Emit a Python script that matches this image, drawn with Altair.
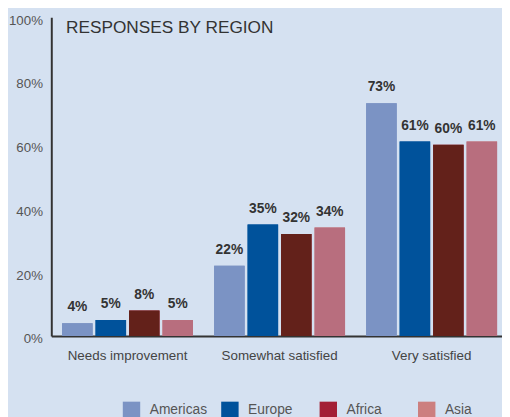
import altair as alt
import pandas as pd

categories = ["Needs improvement", "Somewhat satisfied", "Very satisfied"]
regions = ["Americas", "Europe", "Africa", "Asia"]
americas = [4, 22, 73]
europe = [5, 35, 61]
africa = [8, 32, 60]
asia = [5, 34, 61]
y_ticks = [0, 20, 40, 60, 80, 100]

bar_colors = ["#7B93C4", "#00529B", "#63211A", "#B86E7E"]
legend_colors = ["#7B93C4", "#00529B", "#A31F35", "#CC7F7F"]

series = {"Americas": americas, "Europe": europe, "Africa": africa, "Asia": asia}
rows = []
for r in regions:
    for c, v in zip(categories, series[r]):
        rows.append({"category": c, "region": r, "value": v, "label": f"{v}%"})
df = pd.DataFrame(rows)

FONT = "Liberation Sans"

x = alt.X(
    "category:N",
    sort=categories,
    scale=alt.Scale(paddingInner=0.139, paddingOuter=0.0516, align=0.6875),
    axis=alt.Axis(
        title=None, labelAngle=0, ticks=False, labelPadding=13,
        labelFontSize=13.6, labelColor="#444444", labelFont=FONT,
        domainColor="#333333", domainWidth=2,
    ),
)
xoff = alt.XOffset(
    "region:N", sort=regions,
    scale=alt.Scale(paddingInner=0.0882, paddingOuter=0),
)
y = alt.Y(
    "value:Q",
    scale=alt.Scale(domain=[0, 100], nice=False),
    axis=alt.Axis(
        title=None, values=y_ticks, grid=False, ticks=False,
        labelExpr="datum.value + '%'", labelFontSize=13.5,
        labelColor="#555555", labelFont=FONT, labelPadding=9,
        labelOffset=3,
        domainColor="#333333", domainWidth=2,
    ),
)

base = alt.Chart(df)

# hidden layer (fully covered by the visible bars) that carries the legend colours
legend_layer = base.mark_bar().encode(
    x=x, xOffset=xoff, y=y,
    color=alt.Color(
        "region:N", sort=regions,
        scale=alt.Scale(domain=regions, range=legend_colors),
        legend=alt.Legend(
            title=None, orient="none", legendX=72.5, legendY=390.5,
            direction="horizontal", columns=4, gridAlign="all",
            symbolType="square", symbolSize=313, symbolStrokeWidth=0,
            labelFontSize=14, labelColor="#555555", labelFont=FONT,
            labelOffset=9.5, columnPadding=14, padding=0,
        ),
    ),
)

bars = base.mark_bar().encode(
    x=x, xOffset=xoff, y=y,
    fill=alt.Fill("region:N", sort=regions,
                  scale=alt.Scale(domain=regions, range=bar_colors), legend=None),
)

labels = base.mark_text(
    baseline="alphabetic", dy=-12, fontSize=14, fontWeight="bold",
    color="#333333", font=FONT,
).encode(x=x, xOffset=xoff, y=y, text="label:N")

title = alt.Chart(pd.DataFrame({"t": ["RESPONSES BY REGION"]})).mark_text(
    align="left", baseline="alphabetic", fontSize=17.5, color="#333333", font=FONT,
).encode(x=alt.value(15), y=alt.value(16.5), text="t:N")

chart = alt.layer(legend_layer, bars, labels, title).properties(
    width=458, height=324,
    background="#D5E1F1",
    padding={"left": 44, "top": 6, "right": 0, "bottom": 79},
    autosize=alt.AutoSizeParams(type="none"),
).configure_view(stroke=None)

chart.save("out.html", embed_options={"renderer": "svg", "actions": False})
